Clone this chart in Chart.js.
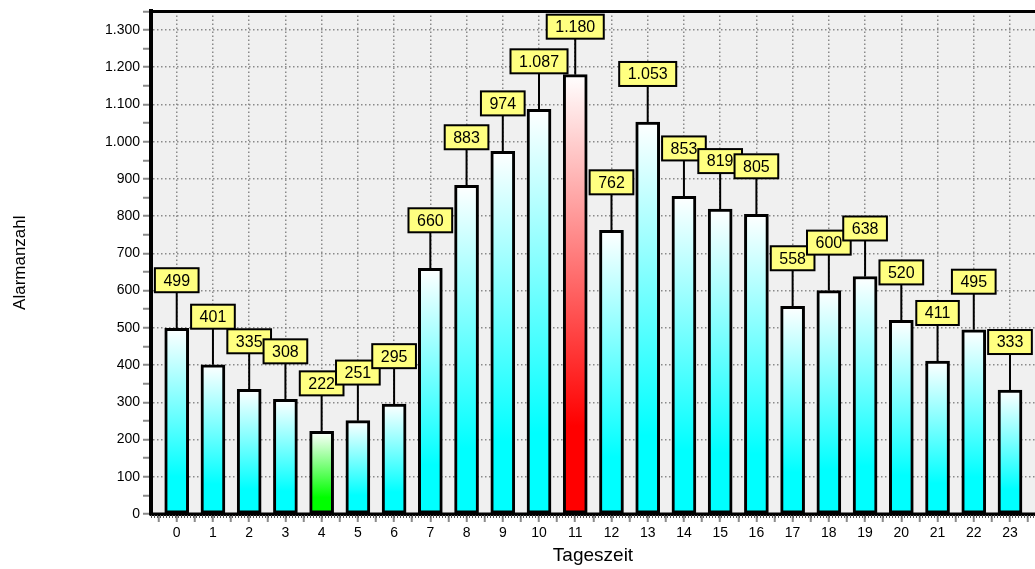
<!DOCTYPE html>
<html>
<head>
<meta charset="utf-8">
<script src="https://cdn.jsdelivr.net/npm/chart.js@4.4.1/dist/chart.umd.min.js"></script>
<style>
  html, body { margin: 0; padding: 0; background: #fff; }
  #wrap { width: 1035px; height: 569px; }
</style>
</head>
<body>
<div id="wrap"><canvas id="alarm-chart"></canvas></div>
<script>
// alarms per hour of the day
const hours = [0, 1, 2, 3, 4, 5, 6, 7, 8, 9, 10, 11, 12, 13, 14, 15, 16, 17, 18, 19, 20, 21, 22, 23];
const alarms = [499, 401, 335, 308, 222, 251, 295, 660, 883, 974, 1087, 1180, 762, 1053, 853, 819, 805, 558, 600, 638, 520, 411, 495, 333];
const yTicks = [0, 100, 200, 300, 400, 500, 600, 700, 800, 900, 1000, 1100, 1200, 1300];

// german thousands separator
function fmt(n) {
  return String(n).replace(/\B(?=(\d{3})+(?!\d))/g, '.');
}

// lowest hour green, peak hour red, the rest cyan
const minVal = Math.min(...alarms);
const maxVal = Math.max(...alarms);
function baseColor(i) {
  if (alarms[i] === maxVal) return '#ff0000';
  if (alarms[i] === minVal) return '#00ff00';
  return '#00ffff';
}

// plot background, top border and the ruler under the x axis
const framePlugin = {
  id: 'frame',
  beforeDraw(chart) {
    const { ctx, chartArea: a } = chart;
    ctx.save();
    ctx.fillStyle = '#f0f0f0';
    ctx.fillRect(a.left, a.top, a.right - a.left, a.bottom - a.top);
    ctx.restore();
  },
  afterDraw(chart) {
    const { ctx, chartArea: a } = chart;
    ctx.save();
    ctx.strokeStyle = '#000';
    ctx.lineWidth = 3;
    ctx.beginPath();
    ctx.moveTo(a.left - 2, a.top);
    ctx.lineTo(a.right, a.top);
    ctx.stroke();
    // bottom axis line and its little ruler marks
    ctx.beginPath();
    ctx.moveTo(a.left - 2, a.bottom);
    ctx.lineTo(a.right, a.bottom);
    ctx.stroke();
    ctx.strokeStyle = '#555';
    ctx.setLineDash([1, 2]);
    ctx.beginPath();
    ctx.moveTo(a.left, a.bottom + 2.5);
    ctx.lineTo(a.right, a.bottom + 2.5);
    ctx.stroke();
    ctx.restore();
  }
};

// yellow value boxes above each bar
const boxPlugin = {
  id: 'valueBoxes',
  afterDatasetsDraw(chart) {
    const { ctx } = chart;
    const meta = chart.getDatasetMeta(0);
    ctx.save();
    ctx.font = '16px Arial, "Liberation Sans", sans-serif';
    ctx.textAlign = 'center';
    ctx.textBaseline = 'middle';
    meta.data.forEach((bar, i) => {
      const text = fmt(alarms[i]);
      const w = ctx.measureText(text).width + 17;
      const h = 24;
      const bottom = bar.y - 36;
      ctx.strokeStyle = '#000';
      ctx.lineWidth = 2;
      ctx.beginPath();
      ctx.moveTo(bar.x, bar.y);
      ctx.lineTo(bar.x, bottom);
      ctx.stroke();
      ctx.fillStyle = '#ffff80';
      ctx.fillRect(bar.x - w / 2, bottom - h, w, h);
      ctx.strokeRect(bar.x - w / 2, bottom - h, w, h);
      ctx.fillStyle = '#000';
      ctx.fillText(text, bar.x, bottom - h / 2 + 1);
    });
    ctx.restore();
  }
};

const ctx = document.getElementById('alarm-chart').getContext('2d');
new Chart(ctx, {
  type: 'bar',
  data: {
    datasets: [{
      label: 'Alarmanzahl',
      data: hours.map((h, i) => ({ x: h, y: alarms[i] })),
      barThickness: 24,
      borderColor: '#000',
      borderWidth: 3,
      borderSkipped: false,
      backgroundColor: c => {
        const color = baseColor(c.dataIndex);
        const chart = c.chart;
        if (!chart.chartArea || !chart.scales.y) return color;
        const y = chart.scales.y;
        const top = y.getPixelForValue(alarms[c.dataIndex]);
        const bottom = y.getPixelForValue(0);
        const g = chart.ctx.createLinearGradient(0, top, 0, bottom);
        g.addColorStop(0, '#ffffff');
        g.addColorStop(0.8, color);
        g.addColorStop(1, color);
        return g;
      }
    }]
  },
  options: {
    responsive: true,
    maintainAspectRatio: false,
    animation: false,
    layout: { padding: { top: 8, left: 0, right: 0, bottom: 0 } },
    plugins: {
      legend: { display: false },
      tooltip: { enabled: false }
    },
    scales: {
      x: {
        type: 'linear',
        min: -0.71,
        max: 23.69,
        bounds: 'data',
        offset: false,
        afterFit: s => { s.height = 55; },
        afterBuildTicks: s => {
          // a labelled tick on every hour, a bare one between hours
          const t = [{ value: -0.5 }];
          hours.forEach(h => {
            t.push({ value: h });
            t.push({ value: h + 0.5 });
          });
          s.ticks = t;
        },
        ticks: {
          autoSkip: false,
          maxRotation: 0,
          padding: 3,
          color: '#000',
          font: { family: 'Arial, "Liberation Sans", sans-serif', size: 14 },
          callback: v => (hours.includes(v) ? String(v) : '')
        },
        grid: {
          offset: false,
          color: c => (c.tick && hours.includes(c.tick.value) ? '#8a8a8a' : 'rgba(0,0,0,0)'),
          lineWidth: 1.5,
          tickColor: '#8a8a8a',
          tickLength: 8,
          tickWidth: 2
        },
        border: { display: true, color: '#000', width: 3, dash: [1.5, 2.5] },
        title: {
          display: true,
          text: 'Tageszeit',
          color: '#000',
          padding: { top: 0, bottom: 2 },
          font: { family: 'Arial, "Liberation Sans", sans-serif', size: 19 }
        }
      },
      y: {
        min: 0,
        max: 1350,
        bounds: 'data',
        afterFit: s => { s.width = 151; },
        afterBuildTicks: s => {
          // major ticks from the list plus minor ones halfway between
          const t = [];
          yTicks.forEach(v => {
            t.push({ value: v });
            if (v + 50 <= s.max) t.push({ value: v + 50 });
          });
          s.ticks = t;
        },
        ticks: {
          autoSkip: false,
          padding: 3,
          color: '#000',
          font: { family: 'Arial, "Liberation Sans", sans-serif', size: 14 },
          callback: v => (yTicks.includes(v) ? fmt(v) : '')
        },
        grid: {
          color: c => (c.tick && yTicks.includes(c.tick.value) && c.tick.value > 0 ? '#8a8a8a' : 'rgba(0,0,0,0)'),
          lineWidth: 1.5,
          tickColor: '#8a8a8a',
          tickLength: 8,
          tickWidth: 2
        },
        border: { display: true, color: '#000', width: 4, dash: [1.5, 2.5] },
        title: {
          display: true,
          text: 'Alarmanzahl',
          color: '#000',
          padding: { top: 10, bottom: 0 },
          font: { family: 'Arial, "Liberation Sans", sans-serif', size: 17 }
        }
      }
    }
  },
  plugins: [framePlugin, boxPlugin]
});
</script>
</body>
</html>
